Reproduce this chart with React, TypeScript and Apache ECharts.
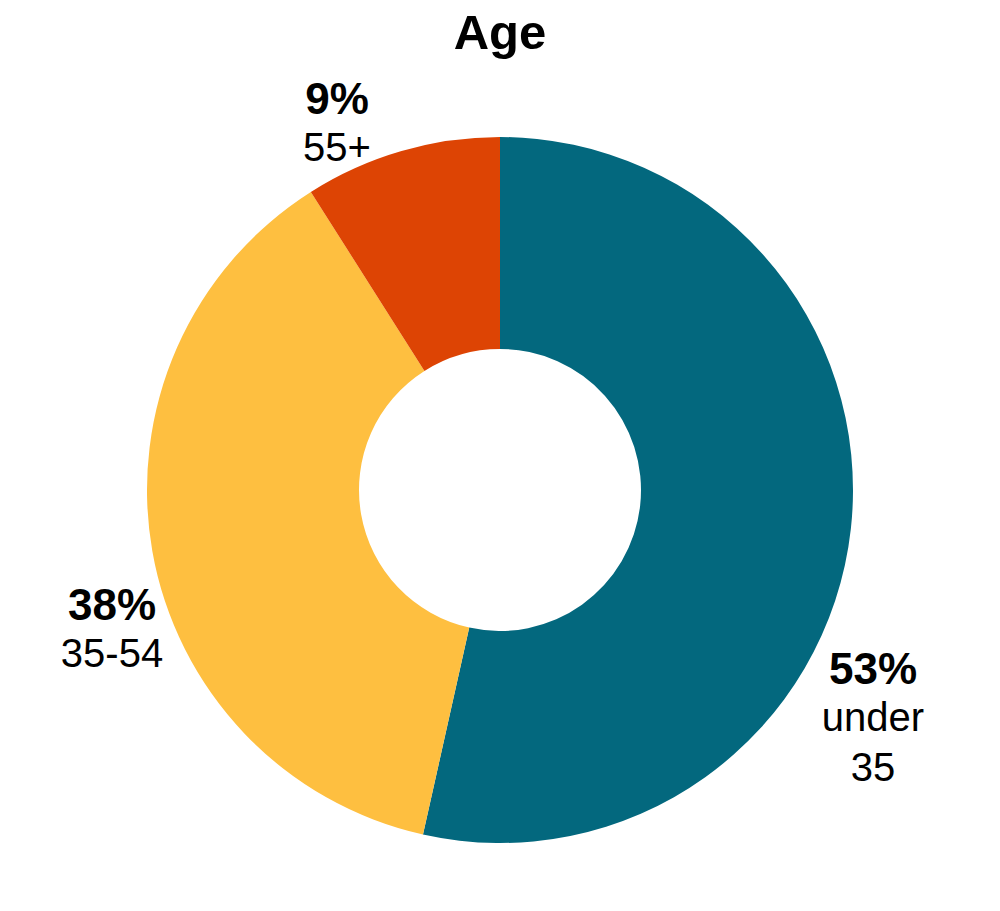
import React, { useEffect, useRef } from "react";
import * as echarts from "echarts";

const categories = ["under\n35", "35-54", "55+"];
const values = [53.5, 37.5, 9.0];
const percentLabels = ["53%", "38%", "9%"];
const colors = ["#03687E", "#FEBF40", "#DD4404"];
const labelPos: [number, number][] = [
  [873, 718],
  [112, 629],
  [337, 123],
];

export default function App() {
  const ref = useRef<HTMLDivElement>(null);
  useEffect(() => {
    if (!ref.current) return;
    const chart = echarts.init(ref.current, null, { renderer: "svg" });
    chart.setOption({
      animation: false,
      backgroundColor: "#ffffff",
      title: {
        text: "Age",
        left: "center",
        top: 2,
        textStyle: {
          fontFamily: "Liberation Sans",
          fontWeight: "bold",
          fontSize: 49,
          color: "#000",
        },
      },
      series: [
        {
          type: "pie",
          center: [500, 490],
          radius: [141, 353],
          startAngle: 90,
          clockwise: true,
          silent: true,
          itemStyle: { borderWidth: 0 },
          label: {
            show: true,
            position: "outside",
            overflow: "none",
            fontFamily: "Liberation Sans",
            color: "#000",
            align: "center",
            formatter: (p: any) =>
              `{b|${percentLabels[p.dataIndex]}}\n{n|${p.name.replace("\n", "}\n{n|")}}`,
            rich: {
              b: {
                fontFamily: "Liberation Sans",
                fontWeight: "bold",
                fontSize: 44,
                lineHeight: 48,
                color: "#000",
                align: "center",
              },
              n: {
                fontFamily: "Liberation Sans",
                fontSize: 40,
                lineHeight: 50,
                color: "#000",
                align: "center",
              },
            },
          },
          labelLine: { show: false },
          labelLayout: (params: any) => {
            const pos = labelPos[params.dataIndex];
            return {
              x: pos[0],
              y: pos[1],
              align: "center",
              verticalAlign: "middle",
            };
          },
          data: categories.map((name, i) => ({
            name,
            value: values[i],
            itemStyle: { color: colors[i] },
          })),
        },
      ],
    });
    return () => chart.dispose();
  }, []);
  return (
    <div
      ref={ref}
      style={{ position: "absolute", left: 0, top: 0, width: 1000, height: 911 }}
    />
  );
}
